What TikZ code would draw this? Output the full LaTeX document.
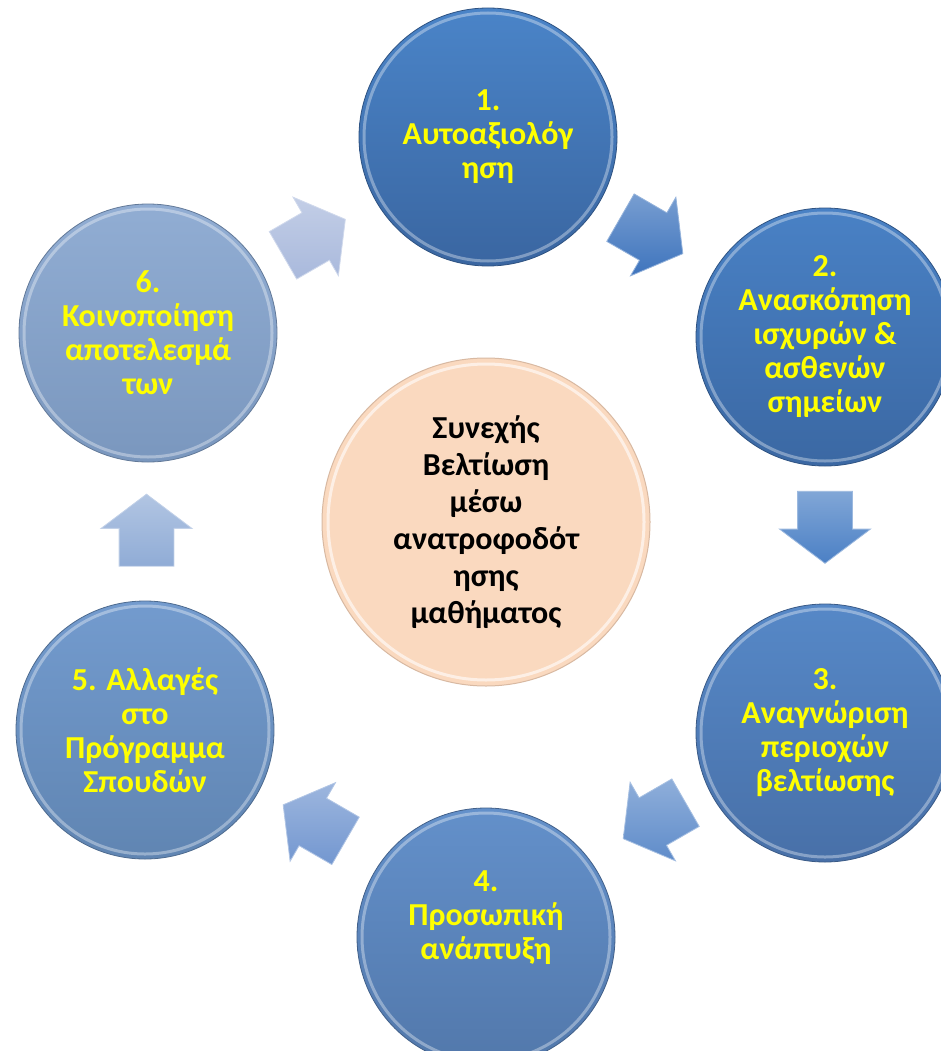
\documentclass[tikz,border=0pt]{standalone}
\usepackage{fontspec}
\setmainfont{Carlito}
\usepackage{tikz}
\usetikzlibrary{shapes.arrows,calc}
\definecolor{CycYellow}{HTML}{FFFF00}
\definecolor{CycOneTop}{HTML}{4A84C8}
\definecolor{CycOneBot}{HTML}{3A66A1}
\definecolor{CycTwoTop}{HTML}{4981C5}
\definecolor{CycTwoBot}{HTML}{3B68A3}
\definecolor{CycThreeTop}{HTML}{5688C7}
\definecolor{CycThreeBot}{HTML}{4870A8}
\definecolor{CycFourTop}{HTML}{6390CA}
\definecolor{CycFourBot}{HTML}{5278AB}
\definecolor{CycFiveTop}{HTML}{739BCE}
\definecolor{CycFiveBot}{HTML}{6085B2}
\definecolor{CycSixTop}{HTML}{91ADD3}
\definecolor{CycSixBot}{HTML}{7A97BE}
\definecolor{CycPeach}{HTML}{FAD9BF}
\definecolor{CycPeachEdge}{HTML}{D8B9A2}
\definecolor{ArrSix}{HTML}{A9B9DC}
\definecolor{ArrOne}{HTML}{3E74BD}
\definecolor{ArrTwo}{HTML}{4B80C5}
\definecolor{ArrThree}{HTML}{5F8CCA}
\definecolor{ArrFour}{HTML}{7397D0}
\definecolor{ArrFive}{HTML}{90ACD6}
\tikzset{
  stagetext/.style={align=center,text=CycYellow,
    font=\bfseries\fontsize{32}{34}\selectfont},
  stage/.style 2 args={circle,minimum size=258pt,inner sep=0pt,stagetext,
    top color=#1,bottom color=#2,draw=#2!80!black,line width=0.8pt},
  hub/.style={circle,minimum size=328pt,inner sep=0pt,align=center,
    font=\bfseries\fontsize{32}{37}\selectfont,fill=CycPeach,
    draw=CycPeachEdge,line width=1pt},
  rim/.style={draw=white,opacity=0.35,line width=3pt},
  blockarrow/.style={single arrow,minimum height=72pt,inner xsep=0pt,
    inner ysep=27pt,single arrow head extend=18pt,single arrow tip angle=106,
    top color=#1!70!white,bottom color=#1,draw=#1!55!white,line width=0.8pt},
  turn/.style={rotate=#1,xshift=-9pt}
}
\begin{document}
\begin{tikzpicture}[x=1pt,y=-1pt]
  \clip (0,0) rectangle (941,1051);
  \node[hub] (hub) at (486,522) {Συνεχής\\Βελτίωση\\μέσω\\ανατροφοδότ\\ησης\\μαθήματος};
  \draw[rim,opacity=0.6] (hub) circle[radius=158pt];
  % the six stages
  \node[stage={CycOneTop}{CycOneBot}] (c1) at (488,137) {1.\\Αυτοαξιολόγ\\ηση};
  \node[stage={CycTwoTop}{CycTwoBot}] (c2) at (825,337) {2.\\Ανασκόπηση\\ισχυρών \&\\ασθενών\\σημείων};
  \node[stage={CycThreeTop}{CycThreeBot}] (c3) at (825,733) {3.\\Αναγνώριση\\περιοχών\\βελτίωσης};
  \node[stage={CycFourTop}{CycFourBot}] (c4) at (486,937) {};
  \node[stagetext] (t4) at ($(c4)+(0,-19)$) {4.\\Προσωπική\\ανάπτυξη};
  \node[stage={CycFiveTop}{CycFiveBot}] (c5) at (145,730) {5. Αλλαγές\\στο\\Πρόγραμμα\\Σπουδών};
  \node[stage={CycSixTop}{CycSixBot}] (c6) at (148,333) {6.\\Κοινοποίηση\\αποτελεσμά\\των};
  \foreach \n in {c1,c2,c3,c4,c5,c6}
    \draw[rim] (\n) circle[radius=124pt];
  % arrows between stages
  \node[blockarrow=ArrSix,turn=30] (a1) at ($(c6)!0.5!(c1)+(-5,3)$) {};
  \node[blockarrow=ArrOne,turn=-30] (a2) at ($(c1)!0.5!(c2)+(-6,-2)$) {};
  \node[blockarrow=ArrTwo,turn=-90] (a3) at ($(c2)!0.5!(c3)+(0,-9)$) {};
  \node[blockarrow=ArrThree,turn=-150] (a4) at ($(c3)!0.5!(c4)+(0,-15)$) {};
  \node[blockarrow=ArrFour,turn=150] (a5) at ($(c4)!0.5!(c5)+(0,-10)$) {};
  \node[blockarrow=ArrFive,turn=90] (a6) at ($(c5)!0.5!(c6)$) {};
\end{tikzpicture}
\end{document}
